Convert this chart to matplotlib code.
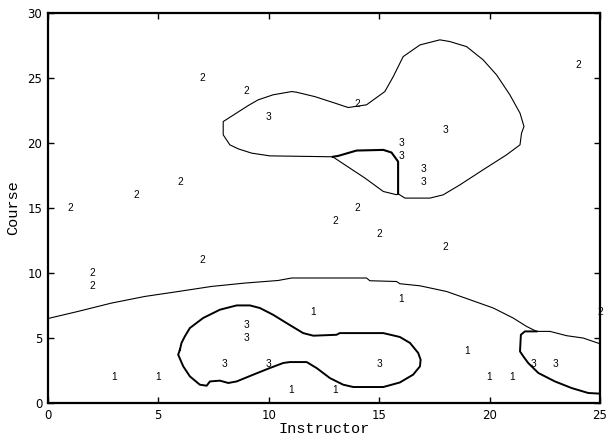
import matplotlib.pyplot as plt
import numpy as np

# training samples, labelled by class
c1_x = [3, 5, 11, 12, 13, 16, 19, 20, 21]
c1_y = [2, 2, 1, 7, 1, 8, 4, 2, 2]
c2_x = [1, 2, 2, 4, 6, 7, 7, 9, 13, 14, 14, 15, 18, 24, 25]
c2_y = [15, 10, 9, 16, 17, 25, 11, 24, 14, 23, 15, 13, 12, 26, 7]
c3_x = [8, 9, 9, 10, 10, 15, 16, 16, 17, 17, 18, 22, 23]
c3_y = [3, 6, 5, 3, 22, 3, 20, 19, 18, 17, 21, 3, 3]

# decision boundaries
upper_x = [12.9, 10.05, 9.23, 8.62, 8.24, 7.94, 7.94, 9.07, 9.52, 10.2, 11.04, 11.26,
           12.09, 13.0, 13.6, 14.43, 15.26, 15.64, 16.09, 16.85, 17.75, 18.2, 18.96,
           19.71, 20.32, 20.92, 21.38, 21.56, 21.45, 21.38, 20.77, 19.71, 18.66, 17.9,
           17.3, 16.17, 15.86]
upper_y = [18.95, 19.02, 19.23, 19.56, 19.87, 20.64, 21.66, 22.89, 23.33, 23.72, 23.97,
           23.92, 23.58, 23.08, 22.74, 22.95, 23.97, 25.12, 26.66, 27.56, 27.95, 27.82,
           27.43, 26.41, 25.25, 23.72, 22.31, 21.28, 20.77, 19.87, 19.1, 17.95, 16.79,
           16.02, 15.77, 15.77, 16.1]
inner_top_x = [15.86, 15.86, 15.56, 15.19, 13.98, 13.15, 12.9]
inner_top_y = [16.1, 18.58, 19.28, 19.48, 19.43, 19.02, 18.95]
inner_diag_x = [12.9, 13.45, 14.36, 15.19, 15.79, 15.86]
inner_diag_y = [18.95, 18.33, 17.31, 16.28, 16.03, 16.1]

mid_x = [0.0, 1.37, 2.88, 4.39, 5.9, 7.41, 8.92, 10.43, 11.04, 13.0, 14.43, 14.58,
         15.79, 15.94, 16.85, 18.06, 19.11, 20.17, 21.07, 21.68, 22.13, 22.74, 23.49,
         24.24, 25.0]
mid_y = [6.5, 7.05, 7.69, 8.2, 8.58, 8.97, 9.23, 9.43, 9.62, 9.62, 9.62, 9.41, 9.35,
         9.18, 9.02, 8.58, 7.95, 7.31, 6.54, 5.89, 5.51, 5.51, 5.18, 5.0, 4.56]

corner_x = [22.13, 21.6, 21.42, 21.38, 21.53, 21.75, 22.21, 22.96, 23.72, 24.47, 25.0]
corner_y = [5.51, 5.51, 5.25, 3.97, 3.59, 3.08, 2.31, 1.66, 1.15, 0.77, 0.72]

lower_x = [5.98, 5.9, 6.13, 6.43, 6.88, 7.19, 7.34, 7.79, 8.17, 8.55, 9.3, 10.05, 10.66,
           10.96, 11.72, 12.17, 12.77, 13.37, 13.83, 15.19, 15.94, 16.54, 16.85, 16.88,
           16.77, 16.4, 15.94, 15.19, 13.22, 13.07, 12.02, 11.56, 10.81, 10.2, 9.6, 9.15,
           8.55, 7.79, 7.03, 6.43, 6.2, 6.05, 5.98]
lower_y = [4.1, 3.72, 2.82, 2.05, 1.41, 1.33, 1.66, 1.72, 1.54, 1.66, 2.18, 2.69, 3.08,
           3.15, 3.15, 2.69, 1.92, 1.41, 1.23, 1.23, 1.58, 2.18, 2.82, 3.33, 3.85, 4.62,
           5.08, 5.38, 5.38, 5.25, 5.18, 5.38, 6.15, 6.79, 7.31, 7.51, 7.51, 7.18, 6.54,
           5.77, 5.12, 4.62, 4.1]

fig = plt.figure(figsize=(6.06, 4.36), dpi=100)
ax = fig.add_axes([0.079, 0.0757, 0.911, 0.894])

ax.plot(upper_x, upper_y, color='black', lw=0.8)
ax.plot(inner_top_x, inner_top_y, color='black', lw=1.5)
ax.plot(inner_diag_x, inner_diag_y, color='black', lw=0.8)
ax.plot(mid_x, mid_y, color='black', lw=0.8)
ax.plot(corner_x, corner_y, color='black', lw=1.4)
ax.plot(lower_x, lower_y, color='black', lw=1.4)

for xs, ys, lab in [(c1_x, c1_y, '1'), (c2_x, c2_y, '2'), (c3_x, c3_y, '3')]:
    for x, y in zip(xs, ys):
        ax.text(x, y, lab, ha='center', va='center', fontsize=7.3,
                family='Liberation Sans', clip_on=False)

ax.set_xlim(0, 25)
ax.set_ylim(0, 30)
ax.set_xticks(np.arange(0, 26, 5))
ax.set_yticks(np.arange(0, 31, 5))
ax.tick_params(direction='in', top=True, right=True, length=4, width=1,
               labelsize=8.5, pad=4)
for s in ax.spines.values():
    s.set_linewidth(1.6)
ax.set_xlabel('Instructor', family='Liberation Mono', fontsize=11, labelpad=0)
ax.set_ylabel('Course', family='Liberation Mono', fontsize=11, labelpad=5.5)

fig.savefig('out.png', dpi=100)
